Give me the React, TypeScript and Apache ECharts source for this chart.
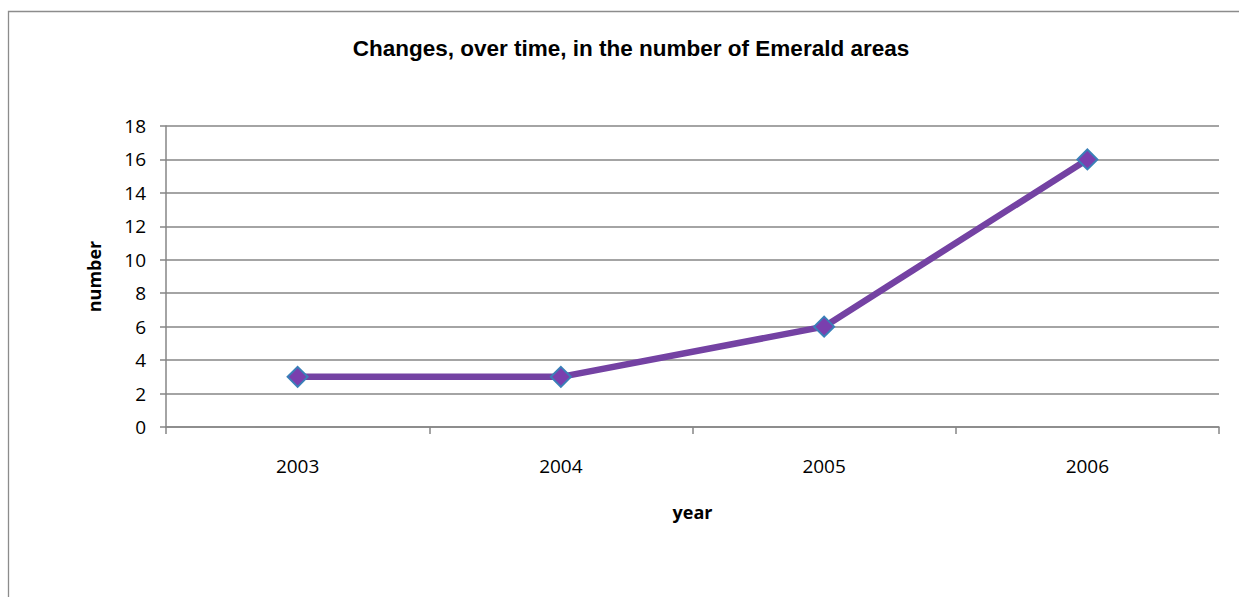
import React, { useEffect, useRef } from "react";
import * as echarts from "echarts";

const title = "Changes, over time, in the number of Emerald areas";
const years = ["2003", "2004", "2005", "2006"];
const counts = [3, 3, 6, 16];
const yTicks = { min: 0, max: 18, interval: 2 };
const xName = "year";
const yName = "number";

export default function App() {
  const ref = useRef<HTMLDivElement>(null);
  useEffect(() => {
    if (!ref.current) return;
    const chart = echarts.init(ref.current, null, { renderer: "svg" });
    const gray = "#868686";
    chart.setOption({
      animation: false,
      backgroundColor: "#ffffff",
      title: {
        text: title,
        left: 626,
        textAlign: "center",
        top: 32,
        textStyle: {
          fontFamily: "Liberation Sans, Arial, sans-serif",
          fontWeight: "bold",
          fontSize: 22.5,
          color: "#000",
        },
      },
      graphic: [
        {
          type: "rect",
          shape: { x: 8.5, y: 11.5, width: 1300, height: 700 },
          style: { fill: "none", stroke: "#8c8c8c", lineWidth: 1.3 },
          silent: true,
        },
      ],
      grid: { left: 166, right: 20, top: 126, bottom: 170, containLabel: false },
      xAxis: {
        type: "category",
        data: years,
        boundaryGap: true,
        name: xName,
        nameLocation: "middle",
        nameGap: 76,
        nameTextStyle: {
          fontFamily: "Open Sans, sans-serif",
          fontWeight: "bold",
          fontSize: 18,
          color: "#000",
          verticalAlign: "top",
        },
        axisLine: { show: true, lineStyle: { color: gray, width: 1.5 } },
        axisTick: { show: true, length: 7, alignWithLabel: false, lineStyle: { color: gray, width: 1.5 } },
        axisLabel: {
          margin: 29,
          fontFamily: "Open Sans, sans-serif",
          fontSize: 19,
          color: "#000",
        },
        splitLine: { show: false },
      },
      yAxis: {
        type: "value",
        min: yTicks.min,
        max: yTicks.max,
        interval: yTicks.interval,
        name: yName,
        nameLocation: "middle",
        nameGap: 63,
        nameTextStyle: {
          fontFamily: "Open Sans, sans-serif",
          fontWeight: "bold",
          fontSize: 18,
          color: "#000",
        },
        axisLine: { show: true, lineStyle: { color: gray, width: 1.5 } },
        axisTick: { show: true, length: 6, lineStyle: { color: gray, width: 1.5 } },
        axisLabel: {
          margin: 20,
          fontFamily: "Open Sans, sans-serif",
          fontSize: 19,
          color: "#000",
        },
        splitLine: { show: true, lineStyle: { color: gray, width: 1.5 } },
      },
      series: [
        {
          type: "line",
          data: counts,
          symbol: "diamond",
          symbolSize: 20,
          lineStyle: { color: "#7442a3", width: 6.5 },
          itemStyle: { color: "#7a3fae", borderColor: "#3a7fb8", borderWidth: 2 },
        },
      ],
    });
    return () => chart.dispose();
  }, []);
  return (
    <div
      ref={ref}
      style={{ position: "absolute", left: 0, top: 0, width: 1239, height: 597 }}
    />
  );
}
